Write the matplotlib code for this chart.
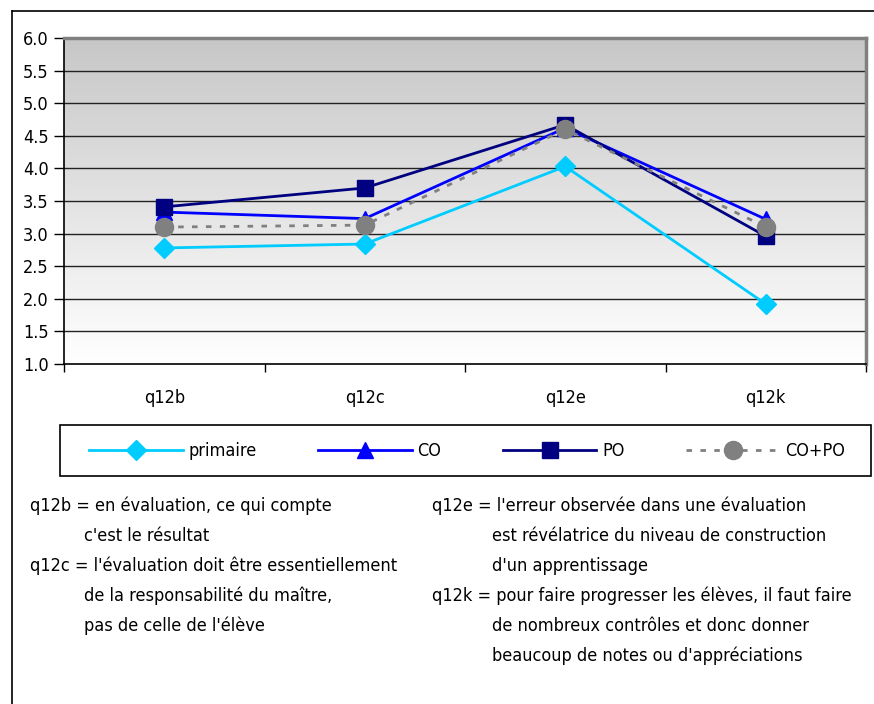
import numpy as np
import matplotlib.pyplot as plt
from matplotlib.lines import Line2D
from matplotlib.patches import Rectangle

plt.rcParams['font.family'] = ['DejaVu Sans']
plt.rcParams['font.stretch'] = 'condensed'

categories = ['q12b', 'q12c', 'q12e', 'q12k']
primaire = [2.78, 2.84, 4.03, 1.92]
co = [3.33, 3.23, 4.62, 3.22]
po = [3.41, 3.70, 4.67, 2.96]
co_po = [3.10, 3.13, 4.60, 3.10]

notes_left = ["q12b = en évaluation, ce qui compte",
              "c'est le résultat",
              "q12c = l'évaluation doit être essentiellement",
              "de la responsabilité du maître,",
              "pas de celle de l'élève"]
notes_right = ["q12e = l'erreur observée dans une évaluation",
               "est révélatrice du niveau de construction",
               "d'un apprentissage",
               "q12k = pour faire progresser les élèves, il faut faire",
               "de nombreux contrôles et donc donner",
               "beaucoup de notes ou d'appréciations"]
indent_left = [False, True, False, True, True]
indent_right = [False, True, True, False, True, True]

W, H = 874, 704
fig = plt.figure(figsize=(W / 100, H / 100), dpi=100)
ax = fig.add_axes([64 / W, 1 - 364 / H, (866 - 64) / W, (364 - 38) / H])

x = np.arange(len(categories))
ax.set_xlim(-0.5, 3.5)
ax.set_ylim(1.0, 6.0)

# gradient background, grey on top to white at bottom
g = np.linspace(0.78, 1.0, 256).reshape(-1, 1, 1) * np.ones((1, 1, 3))
ax.imshow(g, extent=[-0.5, 3.5, 1.0, 6.0], aspect='auto', origin='upper', zorder=0)

for yv in np.arange(1.5, 6.0, 0.5):
    ax.axhline(yv, color='#222222', lw=1.0, zorder=1)

ax.plot(x, primaire, color='#00ccff', lw=2, marker='D', ms=10, zorder=3, label='primaire')
ax.plot(x, co, color='#0000ff', lw=2, marker='^', ms=11, zorder=4, label='CO')
ax.plot(x, po, color='#000080', lw=2, marker='s', ms=12, zorder=5, label='PO')
ax.plot(x, co_po, color='#808080', lw=2, ls=(0, (2, 3)), marker='o', ms=13, zorder=6, label='CO+PO')

ax.set_yticks(np.arange(1.0, 6.01, 0.5))
ax.set_yticklabels(['%.1f' % v for v in np.arange(1.0, 6.01, 0.5)], fontsize=13)
ax.set_xticks(x)
ax.set_xticklabels(categories, fontsize=13)
ax.set_xticks(np.arange(-0.5, 3.6, 1.0), minor=True)
ax.tick_params(axis='x', which='major', length=0, pad=18)
ax.tick_params(axis='x', which='minor', length=6, width=1, direction='out')
ax.tick_params(axis='y', length=7, width=1, direction='out', pad=4)

for s in ['left', 'bottom']:
    ax.spines[s].set_color('black')
    ax.spines[s].set_linewidth(1.2)
for s in ['top', 'right']:
    ax.spines[s].set_color('#808080')
    ax.spines[s].set_linewidth(2.5)

# legend box drawn separately, entries spread inside it
fig.add_artist(Rectangle((60 / W, 1 - 476 / H), (871 - 60) / W, (476 - 425) / H,
                         transform=fig.transFigure, fill=False, ec='black', lw=1.2))
leg = fig.legend(loc='center left', ncol=4, mode='expand',
                 bbox_to_anchor=(82 / W, 1 - 451 / H, (852 - 82) / W, 0),
                 fontsize=13, handlelength=5.2, handletextpad=0.3, frameon=False,
                 borderaxespad=0, columnspacing=2.5)

y0 = 506
for i, t in enumerate(notes_left):
    fig.text((84 if indent_left[i] else 30) / W, 1 - (y0 + 30 * i) / H, t,
             fontsize=13, va='center', ha='left')
for i, t in enumerate(notes_right):
    fig.text((492 if indent_right[i] else 432) / W, 1 - (y0 + 30 * i) / H, t,
             fontsize=13, va='center', ha='left')

# outer frame
fig.add_artist(Line2D([12 / W, 12 / W], [0, 1 - 11 / H], color='black', lw=1.2))
fig.add_artist(Line2D([12 / W, 1], [1 - 11 / H, 1 - 11 / H], color='black', lw=1.2))

fig.savefig('out.png', dpi=100)
